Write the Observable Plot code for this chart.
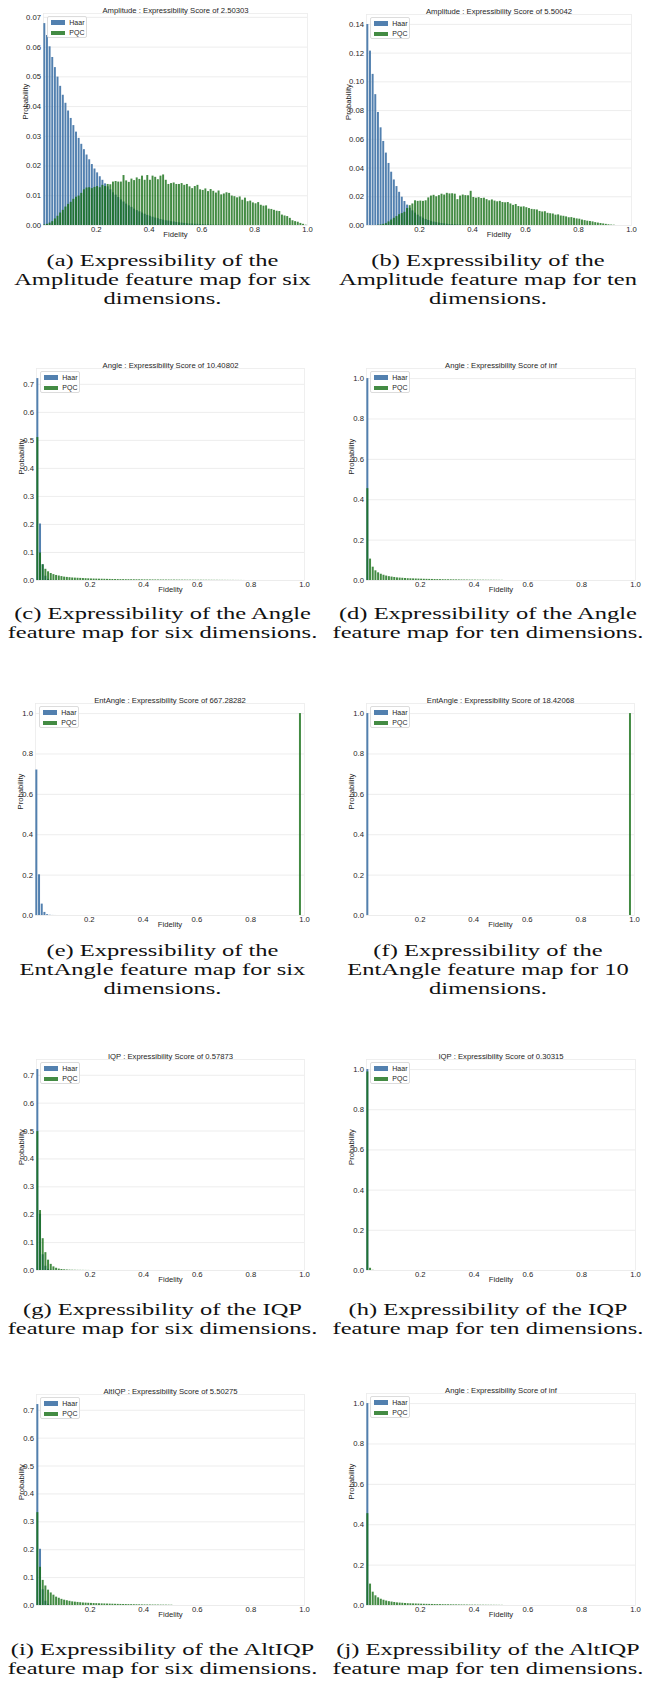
<!DOCTYPE html>
<html><head><meta charset="utf-8">
<script src="https://cdn.jsdelivr.net/npm/d3@7"></script>
<script src="https://cdn.jsdelivr.net/npm/@observablehq/plot@0.6"></script>
<style>
body{margin:0;background:#fff;}
#page{position:relative;width:651px;height:1685px;overflow:hidden;background:#fff;}
.legend{position:absolute;width:40px;height:22px;box-sizing:border-box;border:0.8px solid #dcdcdc;border-radius:2px;background:rgba(255,255,255,0.8);font:7px "Liberation Sans",Arial,sans-serif;color:#262626;}
.sw{position:absolute;left:3px;width:14px;height:4.6px;}
.lt{position:absolute;left:21.5px;line-height:8px;}
.caption{position:absolute;font-family:"Liberation Serif","Times New Roman",serif;color:#111;text-align:center;}
.caption div{white-space:nowrap;transform-origin:50% 50%;}
</style></head><body><div id="page"></div>
<script>
// ---------- data (probability per fidelity bin of width 0.01) ----------
const binWidth = 0.01;
const fidelityTicks = [0.2, 0.4, 0.6, 0.8, 1.0];
const yTicksA = [0, 0.01, 0.02, 0.03, 0.04, 0.05, 0.06, 0.07];
const yTicksB = [0, 0.02, 0.04, 0.06, 0.08, 0.10, 0.12, 0.14];
const yTicks07 = [0, 0.1, 0.2, 0.3, 0.4, 0.5, 0.6, 0.7];
const yTicks10 = [0, 0.2, 0.4, 0.6, 0.8, 1.0];

const haarAmplitude6 = [0.0679,0.0639,0.0601,0.0565,0.0531,0.0499,0.0468,0.0438,0.0411,0.0385,
 0.0360,0.0336,0.0314,0.0293,0.0273,0.0255,0.0237,0.0221,0.0205,0.0190,
 0.0177,0.0164,0.0152,0.0140,0.0130,0.0120,0.0110,0.0102,0.0094,0.0086,
 0.0079,0.0072,0.0066,0.0061,0.0055,0.0050,0.0046,0.0042,0.0038,0.0034,
 0.0031,0.0028,0.0025,0.0023,0.0020,0.0018,0.0016,0.0015,0.0013,0.0012,
 0.0010,0.0009,0.0008,0.0007,0.0006,0.0005,0.0005,0.0004,0.0004,0.0003,
 0.0003,0.0002,0.0002,0.0002,0.0001,0.0001,0.0001,0.0001,0.0001];
const pqcAmplitude6 = [0.0002,0.0004,0.0008,0.0013,0.0022,0.0031,0.0042,0.0051,0.0062,0.0071,
 0.0078,0.0088,0.0095,0.0099,0.0108,0.0120,0.0126,0.0127,0.0124,0.0128,
 0.0131,0.0127,0.0135,0.0131,0.0138,0.0137,0.0146,0.0148,0.0146,0.0146,
 0.0168,0.0150,0.0145,0.0156,0.0151,0.0160,0.0155,0.0166,0.0152,0.0168,
 0.0152,0.0166,0.0162,0.0154,0.0166,0.0170,0.0152,0.0138,0.0141,0.0143,
 0.0138,0.0138,0.0141,0.0135,0.0138,0.0130,0.0124,0.0131,0.0135,0.0120,
 0.0118,0.0123,0.0114,0.0121,0.0115,0.0109,0.0116,0.0103,0.0106,0.0110,
 0.0108,0.0099,0.0097,0.0093,0.0096,0.0085,0.0092,0.0080,0.0082,0.0076,
 0.0073,0.0077,0.0068,0.0065,0.0066,0.0055,0.0054,0.0051,0.0048,0.0047,
 0.0035,0.0032,0.0030,0.0024,0.0016,0.0013,0.0011,0.0007,0.0004,0.0001];
const haarAmplitude10 = [0.1399,0.1214,0.1052,0.0911,0.0787,0.0680,0.0585,0.0504,0.0432,0.0371,
 0.0317,0.0271,0.0231,0.0197,0.0167,0.0142,0.0120,0.0102,0.0086,0.0072,
 0.0060,0.0051,0.0042,0.0035,0.0029,0.0024,0.0020,0.0017,0.0014,0.0011,
 0.0009,0.0007,0.0006,0.0005,0.0004,0.0003,0.0002,0.0002,0.0001,0.0001];
const pqcAmplitude10 = [0,0,0,0,0.0002,0.0004,0.0008,0.0013,0.0025,0.0038,
 0.0050,0.0062,0.0075,0.0083,0.0092,0.0118,0.0138,0.0150,0.0172,0.0168,
 0.0170,0.0168,0.0172,0.0192,0.0205,0.0210,0.0200,0.0208,0.0218,0.0212,
 0.0224,0.0220,0.0221,0.0218,0.0180,0.0205,0.0212,0.0208,0.0207,0.0238,
 0.0195,0.0190,0.0194,0.0188,0.0190,0.0180,0.0172,0.0178,0.0170,0.0165,
 0.0168,0.0160,0.0158,0.0160,0.0150,0.0140,0.0146,0.0132,0.0128,0.0130,
 0.0124,0.0118,0.0112,0.0110,0.0108,0.0098,0.0094,0.0096,0.0085,0.0082,
 0.0080,0.0072,0.0074,0.0066,0.0064,0.0060,0.0054,0.0055,0.0050,0.0046,
 0.0044,0.0038,0.0034,0.0030,0.0028,0.0025,0.0020,0.0017,0.0014,0.0011,
 0.0008,0.0005,0.0003,0.0002];
const haarSix = [0.7205,0.2016,0.0564,0.0153,0.0041,0.0011,0.0003,0.0001];
const haarTen = [1.0];
const pqcAngle6 = [0.510,0.098,0.056,0.040,0.031,0.025,0.021,0.018,0.016,0.014,
 0.012,0.011,0.010,0.009,0.0085,0.008,0.0075,0.007,0.0065,0.006,
 0.0055,0.0052,0.0050,0.0047,0.0045,0.0043,0.0040,0.0038,0.0036,0.0035,
 0.0033,0.0031,0.0030,0.0029,0.0028,0.0027,0.0026,0.0025,0.0024,0.0023,
 0.0022,0.0021,0.0020,0.0020,0.0019,0.0018,0.0018,0.0017,0.0016,0.0016,
 0.0015,0.0015,0.0014,0.0014,0.0013,0.0013,0.0012,0.0012,0.0011,0.0011,
 0.0010,0.0010,0.0009,0.0009,0.0008,0.0008,0.0007,0.0007,0.0006,0.0006,
 0.0005,0.0005,0.0004,0.0004,0.0003,0.0003,0.0002,0.0001];
const pqcAngle10 = [0.455,0.106,0.066,0.048,0.038,0.031,0.026,0.022,0.019,0.017,
 0.015,0.013,0.012,0.011,0.010,0.009,0.0085,0.008,0.0075,0.007,
 0.0065,0.0060,0.0057,0.0054,0.0051,0.0048,0.0045,0.0043,0.0040,0.0038,
 0.0036,0.0034,0.0032,0.0030,0.0028,0.0026,0.0024,0.0022,0.0020,0.0019,
 0.0018,0.0016,0.0015,0.0014,0.0013,0.0012,0.0011,0.0010,0.0009,0.0008,0.0007];
const pqcEntAngleFidelity = [0.98];
const pqcEntAngle6 = [1.0];
const pqcEntAngle10 = [1.0];
const pqcIQP6 = [0.498,0.215,0.114,0.064,0.037,0.022,0.013,0.008,0.005,0.0035,
 0.0025,0.0018,0.0013,0.0010,0.0008,0.0006,0.0005,0.0004,0.0003,0.0002];
const pqcIQP10 = [0.988,0.011,0.001];
const pqcAltIQP6 = [0.333,0.137,0.090,0.070,0.055,0.045,0.037,0.030,0.026,0.022,
 0.019,0.017,0.015,0.013,0.012,0.011,0.010,0.009,0.0085,0.008,
 0.0075,0.0070,0.0066,0.0062,0.0058,0.0055,0.0052,0.0049,0.0046,0.0043,
 0.0040,0.0038,0.0036,0.0034,0.0032,0.0030,0.0028,0.0026,0.0024,0.0022,
 0.0020,0.0019,0.0018,0.0017,0.0016,0.0015,0.0014,0.0013,0.0012,0.0011,0.0010];
const pqcAltIQP10 = pqcAngle10;

const titles = [
 "Amplitude : Expressibility Score of 2.50303",
 "Amplitude : Expressibility Score of 5.50042",
 "Angle : Expressibility Score of 10.40802",
 "Angle : Expressibility Score of inf",
 "EntAngle : Expressibility Score of 667.28282",
 "EntAngle : Expressibility Score of 18.42068",
 "IQP : Expressibility Score of 0.57873",
 "IQP : Expressibility Score of 0.30315",
 "AltIQP : Expressibility Score of 5.50275",
 "Angle : Expressibility Score of inf"];
const captions = [
 ["(a) Expressibility of the", "Amplitude feature map for six", "dimensions."],
 ["(b) Expressibility of the", "Amplitude feature map for ten", "dimensions."],
 ["(c) Expressibility of the Angle", "feature map for six dimensions."],
 ["(d) Expressibility of the Angle", "feature map for ten dimensions."],
 ["(e) Expressibility of the", "EntAngle feature map for six", "dimensions."],
 ["(f) Expressibility of the", "EntAngle feature map for 10", "dimensions."],
 ["(g) Expressibility of the IQP", "feature map for six dimensions."],
 ["(h) Expressibility of the IQP", "feature map for ten dimensions."],
 ["(i) Expressibility of the AltIQP", "feature map for six dimensions."],
 ["(j) Expressibility of the AltIQP", "feature map for ten dimensions."]];
const seriesNames = ["Haar", "PQC"];

// ---------- helpers ----------
const HAAR = "#3f72a6", PQC = "#146e14";
const bins = (vals) => vals.map((p, i) => ({x1: i * binWidth, x2: (i + 1) * binWidth, p}));
const sparse = (fids, vals) => fids.map((f, i) => ({x1: f, x2: f + binWidth, p: vals[i]}));

// layout: [plotLeft, plotRight, plotTop, plotBottom]
const panels = [
 {col:0, box:[43,307,13,225], haar:bins(haarAmplitude6), pqc:bins(pqcAmplitude6), yt:yTicksA, fmt:".2f", ydx:-18},
 {col:1, box:[366,631,14,225], haar:bins(haarAmplitude10), pqc:bins(pqcAmplitude10), yt:yTicksB, fmt:".2f", ydx:-18},
 {col:0, box:[36,304,368,580], haar:bins(haarSix), pqc:bins(pqcAngle6), yt:yTicks07, fmt:".1f", ydx:-15},
 {col:1, box:[366,635,368,580], haar:bins(haarTen), pqc:bins(pqcAngle10), yt:yTicks10, fmt:".1f", ydx:-15},
 {col:0, box:[35,304,703,915], haar:bins(haarSix), pqc:sparse(pqcEntAngleFidelity, pqcEntAngle6), yt:yTicks10, fmt:".1f", ydx:-15},
 {col:1, box:[366,634,703,915], haar:bins(haarTen), pqc:sparse(pqcEntAngleFidelity, pqcEntAngle10), yt:yTicks10, fmt:".1f", ydx:-15},
 {col:0, box:[36,304,1059,1270], haar:bins(haarSix), pqc:bins(pqcIQP6), yt:yTicks07, fmt:".1f", ydx:-15},
 {col:1, box:[366,635,1059,1270], haar:bins(haarTen), pqc:bins(pqcIQP10), yt:yTicks10, fmt:".1f", ydx:-15},
 {col:0, box:[36,304,1394,1605], haar:bins(haarSix), pqc:bins(pqcAltIQP6), yt:yTicks07, fmt:".1f", ydx:-15},
 {col:1, box:[366,635,1393,1605], haar:bins(haarTen), pqc:bins(pqcAltIQP10), yt:yTicks10, fmt:".1f", ydx:-15}];
const captionTops = [251, 251, 604, 604, 941, 941, 1300, 1300, 1640, 1640];

const page = document.getElementById("page");
const FONT = '"Liberation Sans", Arial, sans-serif';

panels.forEach((p, k) => {
  const colLeft = p.col === 0 ? 0 : 325, colW = p.col === 0 ? 325 : 326;
  const [L, R, T, B] = p.box;
  const mt = 16, mb = 18;
  const ymax = 1.05 * d3.max([...p.haar, ...p.pqc], d => d.p);
  const chart = Plot.plot({
    width: colW, height: (B - T) + mt + mb,
    marginLeft: L - colLeft, marginRight: colLeft + colW - R, marginTop: mt, marginBottom: mb,
    x: {domain: [0, 1]},
    y: {domain: [0, ymax]},
    style: {fontFamily: FONT, fontSize: "7.7px", color: "#262626", background: "transparent", overflow: "visible"},
    marks: [
      Plot.gridY(p.yt, {stroke: "#e9e9e9", strokeOpacity: 1, strokeWidth: 0.8}),
      Plot.frame({stroke: "#ececec", strokeWidth: 0.8}),
      Plot.rectY(p.haar, {x1: "x1", x2: "x2", y: "p", fill: HAAR, fillOpacity: 0.9, insetLeft: 0.35, insetRight: 0.35}),
      Plot.rectY(p.pqc, {x1: "x1", x2: "x2", y: "p", fill: PQC, fillOpacity: 0.8, insetLeft: 0.35, insetRight: 0.35}),
      Plot.axisX(fidelityTicks, {tickSize: 0, tickPadding: 1.2, tickFormat: d3.format(".1f"), label: null}),
      Plot.axisY(p.yt, {tickSize: 0, tickPadding: 2.5, tickFormat: d3.format(p.fmt), label: null}),
      Plot.text([titles[k]], {text: d => d, frameAnchor: "top", lineAnchor: "bottom", dy: -1, fontSize: 7.7}),
      Plot.text(["Fidelity"], {text: d => d, frameAnchor: "bottom", lineAnchor: "top", dy: 6.5, fontSize: 7.7}),
      Plot.text(["Probability"], {text: d => d, frameAnchor: "left", rotate: -90, dx: p.ydx, fontSize: 7.7})
    ]
  });
  chart.style.position = "absolute";
  chart.style.left = colLeft + "px";
  chart.style.top = (T - mt) + "px";
  page.appendChild(chart);

  // legend
  const lg = document.createElement("div");
  lg.className = "legend";
  lg.style.left = (L + 3.8) + "px";
  lg.style.top = (T + 3) + "px";
  [HAAR, PQC].forEach((c, i) => {
    const sw = document.createElement("div");
    sw.className = "sw";
    sw.style.top = (3.3 + i * 10.3) + "px";
    sw.style.background = c;
    sw.style.opacity = i === 0 ? 0.9 : 0.8;
    lg.appendChild(sw);
    const t = document.createElement("div");
    t.className = "lt";
    t.style.top = (1.6 + i * 10.3) + "px";
    t.textContent = seriesNames[i];
    lg.appendChild(t);
  });
  page.appendChild(lg);

  // caption
  const cap = document.createElement("div");
  cap.className = "caption";
  cap.style.left = colLeft + "px";
  cap.style.width = colW + "px";
  cap.style.top = captionTops[k] + "px";
  cap.style.fontSize = "17.5px";
  cap.style.lineHeight = "19px";
  captions[k].forEach(line => {
    const d = document.createElement("div");
    d.textContent = line;
    d.style.transform = "scaleX(1.4)";
    cap.appendChild(d);
  });
  page.appendChild(cap);
});
</script></body></html>
